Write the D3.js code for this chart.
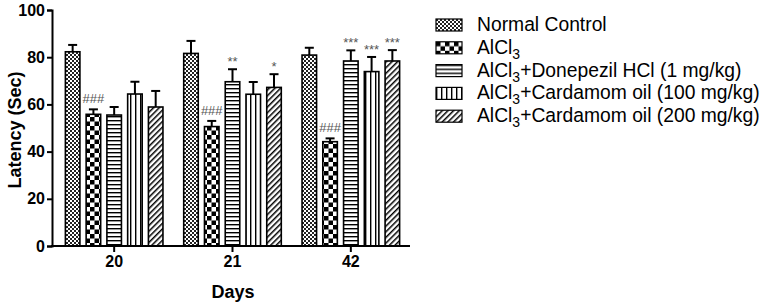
<!DOCTYPE html>
<html lang="en">
<head>
    <meta charset="UTF-8">
    <script type="text/javascript" src="https://cdn.jsdelivr.net/npm/d3@7/dist/d3.min.js"></script>
    <title>Latency</title>
    <style>
        body { margin: 0; background: #fff; }
        text { font-family: "Liberation Sans", Arial, sans-serif; }
    </style>
</head>
<body>
</body>
<script>
    var days = ["20", "21", "42"];
    var groups = ["nc", "al", "dp", "c100", "c200"];
    var groupLabels = ["Normal Control", "AlCl|3", "AlCl|3|+Donepezil HCl (1 mg/kg)",
        "AlCl|3|+Cardamom oil (100 mg/kg)", "AlCl|3|+Cardamom oil (200 mg/kg)"];
    // mean values per group, one entry per day
    var normalControl = [82.3, 81.6, 80.9];
    var alcl3 = [55.8, 50.6, 44.2];
    var donepezil = [55.5, 69.6, 78.4];
    var cardamom100 = [64.4, 64.3, 73.9];
    var cardamom200 = [58.9, 67.2, 78.4];
    // upper error (mean + sem)
    var ncErr = [85.2, 86.9, 84.0];
    var alErr = [57.9, 53.0, 45.6];
    var dpErr = [58.9, 74.9, 82.9];
    var c100Err = [69.6, 69.5, 80.1];
    var c200Err = [65.7, 72.8, 83.0];
    // significance marks
    var ncSig = ["", "", ""];
    var alSig = ["###", "###", "###"];
    var dpSig = ["", "**", "***"];
    var c100Sig = ["", "", "***"];
    var c200Sig = ["", "*", "***"];
    var yTicks = [0, 20, 40, 60, 80, 100];

    var means = [normalControl, alcl3, donepezil, cardamom100, cardamom200];
    var errs = [ncErr, alErr, dpErr, c100Err, c200Err];
    var sigs = [ncSig, alSig, dpSig, c100Sig, c200Sig];

    var rows = [];
    days.forEach(function (d, i) {
        groups.forEach(function (g, j) {
            rows.push({day: d, group: g, value: means[j][i], err: errs[j][i], sig: sigs[j][i]});
        });
    });

    var svg = d3.select("body").append("svg")
        .attr("width", 765)
        .attr("height", 305);

    // patterns
    var defs = svg.append("defs");
    var p;
    p = defs.append("pattern").attr("id", "pat-nc").attr("patternUnits", "userSpaceOnUse")
        .attr("width", 4).attr("height", 4);
    p.append("rect").attr("width", 4).attr("height", 4).attr("fill", "#fff");
    p.append("rect").attr("width", 2).attr("height", 2).attr("fill", "#222");
    p.append("rect").attr("x", 2).attr("y", 2).attr("width", 2).attr("height", 2).attr("fill", "#222");

    p = defs.append("pattern").attr("id", "pat-al").attr("patternUnits", "userSpaceOnUse")
        .attr("width", 9).attr("height", 9);
    p.append("rect").attr("width", 9).attr("height", 9).attr("fill", "#fff");
    p.append("rect").attr("width", 4.5).attr("height", 4.5).attr("fill", "#000");
    p.append("rect").attr("x", 4.5).attr("y", 4.5).attr("width", 4.5).attr("height", 4.5).attr("fill", "#000");

    p = defs.append("pattern").attr("id", "pat-dp").attr("patternUnits", "userSpaceOnUse")
        .attr("width", 4).attr("height", 4);
    p.append("rect").attr("width", 4).attr("height", 4).attr("fill", "#fff");
    p.append("rect").attr("y", 0).attr("width", 4).attr("height", 1.4).attr("fill", "#000");

    p = defs.append("pattern").attr("id", "pat-c100").attr("patternUnits", "userSpaceOnUse")
        .attr("width", 5).attr("height", 5);
    p.append("rect").attr("width", 5).attr("height", 5).attr("fill", "#fff");
    p.append("rect").attr("x", 0).attr("width", 1.4).attr("height", 5).attr("fill", "#000");

    p = defs.append("pattern").attr("id", "pat-c200").attr("patternUnits", "userSpaceOnUse")
        .attr("width", 4).attr("height", 4).attr("patternTransform", "rotate(45)");
    p.append("rect").attr("width", 4).attr("height", 4).attr("fill", "#fff");
    p.append("rect").attr("x", 0).attr("width", 1.5).attr("height", 4).attr("fill", "#000");

    var x0 = d3.scaleBand().domain(days).range([55, 410]);
    var x1 = d3.scaleBand().domain(groups).range([0, x0.bandwidth()])
        .paddingInner(0.3).paddingOuter(0.5);
    var y = d3.scaleLinear().domain([0, 100]).range([246, 10]);

    // bars
    var bars = svg.append("g").selectAll("g")
        .data(rows)
        .enter()
        .append("g");

    // error bars (upper only)
    bars.append("line")
        .attr("x1", d => x0(d.day) + x1(d.group) + x1.bandwidth() / 2)
        .attr("x2", d => x0(d.day) + x1(d.group) + x1.bandwidth() / 2)
        .attr("y1", d => y(d.value))
        .attr("y2", d => y(d.err))
        .attr("stroke", "#000").attr("stroke-width", 2);
    bars.append("line")
        .attr("x1", d => x0(d.day) + x1(d.group) + x1.bandwidth() / 2 - 4.5)
        .attr("x2", d => x0(d.day) + x1(d.group) + x1.bandwidth() / 2 + 4.5)
        .attr("y1", d => y(d.err))
        .attr("y2", d => y(d.err))
        .attr("stroke", "#000").attr("stroke-width", 2);

    bars.append("rect")
        .attr("x", d => x0(d.day) + x1(d.group))
        .attr("y", d => y(d.value))
        .attr("width", x1.bandwidth())
        .attr("height", d => y(0) - y(d.value))
        .attr("fill", d => "url(#pat-" + d.group + ")")
        .attr("stroke", "#000")
        .attr("stroke-width", 1.6);

    bars.filter(d => d.sig !== "")
        .append("text")
        .attr("x", d => x0(d.day) + x1(d.group) + x1.bandwidth() / 2)
        .attr("y", d => y(d.err) - (d.sig[0] === "#" ? 6 : 3))
        .attr("text-anchor", "middle")
        .attr("fill", "#555")
        .style("font-size", "13px")
        .text(d => d.sig);

    // axes
    var yAxis = svg.append("g")
        .attr("transform", "translate(52,0)")
        .call(d3.axisLeft(y).tickValues(yTicks).tickSize(5).tickPadding(2));
    var xAxis = svg.append("g")
        .attr("transform", "translate(0,246)")
        .call(d3.axisBottom(x0).tickSize(6).tickPadding(4).tickSizeOuter(0));
    xAxis.select(".domain").attr("d", "M51,0H410");

    [yAxis, xAxis].forEach(function (a) {
        a.selectAll("path, line").attr("stroke", "#000").attr("stroke-width", 2);
        a.selectAll("text")
            .attr("fill", "#000")
            .style("font-family", "'Liberation Sans', Arial, sans-serif")
            .style("font-size", "16px")
            .style("font-weight", "bold");
    });

    svg.append("text")
        .attr("transform", "translate(21,130) rotate(-90)")
        .attr("text-anchor", "middle")
        .style("font-size", "18px")
        .style("font-weight", "bold")
        .text("Latency (Sec)");

    svg.append("text")
        .attr("x", 233)
        .attr("y", 298)
        .attr("text-anchor", "middle")
        .style("font-size", "18px")
        .style("font-weight", "bold")
        .text("Days");

    // legend
    var legend = svg.append("g").selectAll("g")
        .data(groups)
        .enter()
        .append("g")
        .attr("transform", (d, i) => "translate(436," + (19 + i * 22.8) + ")");

    legend.append("rect")
        .attr("width", 26)
        .attr("height", 12)
        .attr("fill", d => "url(#pat-" + d + ")")
        .attr("stroke", "#000")
        .attr("stroke-width", 1.2);

    legend.append("text")
        .attr("x", 41)
        .attr("y", 12)
        .style("font-size", "19.3px")
        .each(function (d, i) {
            var parts = groupLabels[i].split("|");
            var t = d3.select(this);
            parts.forEach(function (s, k) {
                var span = t.append("tspan").text(s);
                if (k === 1) span.attr("dy", 5).style("font-size", "14px");
                if (k === 2) span.attr("dy", -5);
            });
        });
</script>
</html>
